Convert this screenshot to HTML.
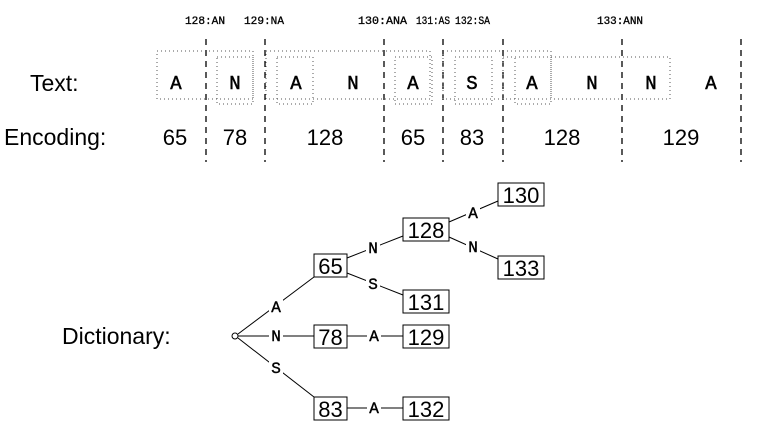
<!DOCTYPE html>
<html><head><meta charset="utf-8"><style>
html,body{margin:0;padding:0;background:#fff;}
svg{display:block;}
.m{font-family:"Liberation Mono",monospace;}
.s{font-family:"Liberation Sans",sans-serif;}
</style></head><body>
<svg width="761" height="443" viewBox="0 0 761 443" xmlns="http://www.w3.org/2000/svg">
<g class="m" font-size="11" fill="#000" stroke="#000" stroke-width="0.3" lengthAdjust="spacingAndGlyphs">
<text x="185" y="24" textLength="40" lengthAdjust="spacingAndGlyphs">128:AN</text>
<text x="244" y="24" textLength="40" lengthAdjust="spacingAndGlyphs">129:NA</text>
<text x="358" y="24" textLength="49" lengthAdjust="spacingAndGlyphs">130:ANA</text>
<text x="416" y="24" textLength="34" lengthAdjust="spacingAndGlyphs">131:AS</text>
<text x="455" y="24" textLength="35" lengthAdjust="spacingAndGlyphs">132:SA</text>
<text x="597" y="24" textLength="46" lengthAdjust="spacingAndGlyphs">133:ANN</text>
</g>
<g stroke="#000" stroke-width="1.3" stroke-dasharray="6,5">
<line x1="206" y1="39" x2="206" y2="162"/>
<line x1="265" y1="39" x2="265" y2="162"/>
<line x1="384" y1="39" x2="384" y2="162"/>
<line x1="443" y1="39" x2="443" y2="162"/>
<line x1="503" y1="39" x2="503" y2="162"/>
<line x1="622" y1="39" x2="622" y2="162"/>
<line x1="741" y1="39" x2="741" y2="162"/>
</g>
<g fill="none" stroke="#555" stroke-width="1" stroke-dasharray="1,3">
<rect x="157" y="51" width="96" height="48"/>
<rect x="217" y="57" width="36" height="47"/>
<rect x="266" y="51" width="164" height="48"/>
<rect x="277" y="57" width="36" height="47"/>
<rect x="395" y="57" width="37" height="47"/>
<rect x="443" y="51" width="108" height="48"/>
<rect x="455" y="57" width="37" height="47"/>
<rect x="515" y="57" width="36" height="47"/>
<rect x="503" y="57" width="167" height="42"/>
</g>
<g class="m" font-size="19" text-anchor="middle" stroke="#000" stroke-width="0.5">
<text x="176" y="89">A</text><text x="235" y="89">N</text>
<text x="296" y="89">A</text><text x="353" y="89">N</text>
<text x="413" y="89">A</text><text x="472" y="89">S</text>
<text x="532" y="89">A</text><text x="592" y="89">N</text>
<text x="651" y="89">N</text><text x="711" y="89">A</text>
</g>
<g class="s" font-size="22" text-anchor="middle">
<text x="175" y="145">65</text><text x="235" y="145">78</text>
<text x="325" y="145">128</text><text x="413" y="145">65</text>
<text x="472" y="145">83</text><text x="562" y="145">128</text>
<text x="681" y="145">129</text>
</g>
<g class="s" font-size="23">
<text x="30" y="91">Text:</text>
<text x="4" y="145">Encoding:</text>
<text x="62" y="344">Dictionary:</text>
</g>
<g stroke="#000" stroke-width="1">
<line x1="238" y1="334" x2="314" y2="277"/>
<line x1="238" y1="336" x2="314" y2="336"/>
<line x1="238" y1="338" x2="314" y2="397"/>
<line x1="347" y1="258" x2="403" y2="236"/>
<line x1="347" y1="273" x2="403" y2="295"/>
<line x1="449" y1="222" x2="498" y2="201"/>
<line x1="449" y1="237" x2="498" y2="259"/>
<line x1="347" y1="336" x2="403" y2="336"/>
<line x1="347" y1="408" x2="403" y2="408"/>
</g>
<circle cx="235" cy="336" r="3" fill="#fff" stroke="#000" stroke-width="1"/>
<g fill="#fff" stroke="#000" stroke-width="1">
<rect x="314" y="254" width="33" height="23"/>
<rect x="403" y="218" width="46" height="23"/>
<rect x="498" y="183" width="46" height="23"/>
<rect x="498" y="256" width="46" height="23"/>
<rect x="403" y="290" width="46" height="23"/>
<rect x="314" y="325" width="33" height="23"/>
<rect x="403" y="325" width="46" height="23"/>
<rect x="314" y="397" width="33" height="23"/>
<rect x="403" y="397" width="46" height="23"/>
</g>
<g class="s" font-size="22" text-anchor="middle">
<text x="330.5" y="274">65</text>
<text x="426" y="238">128</text>
<text x="521" y="203">130</text>
<text x="521" y="276">133</text>
<text x="426" y="310">131</text>
<text x="330.5" y="345">78</text>
<text x="426" y="345">129</text>
<text x="330.5" y="417">83</text>
<text x="426" y="417">132</text>
</g>
<g fill="#fff">
<rect x="269" y="298" width="14" height="16"/>
<rect x="269" y="328" width="14" height="16"/>
<rect x="269" y="360" width="14" height="16"/>
<rect x="366" y="240" width="14" height="16"/>
<rect x="366" y="276" width="14" height="16"/>
<rect x="466" y="205" width="14" height="16"/>
<rect x="466" y="239" width="14" height="16"/>
<rect x="367" y="328" width="14" height="16"/>
<rect x="367" y="400" width="14" height="16"/>
</g>
<g class="m" font-size="16" text-anchor="middle" stroke="#000" stroke-width="0.4">
<text x="276" y="312">A</text>
<text x="276" y="341">N</text>
<text x="276" y="373">S</text>
<text x="373" y="253">N</text>
<text x="373" y="289">S</text>
<text x="473" y="218">A</text>
<text x="473" y="252">N</text>
<text x="374" y="341">A</text>
<text x="374" y="413">A</text>
</g>
</svg>
</body></html>
